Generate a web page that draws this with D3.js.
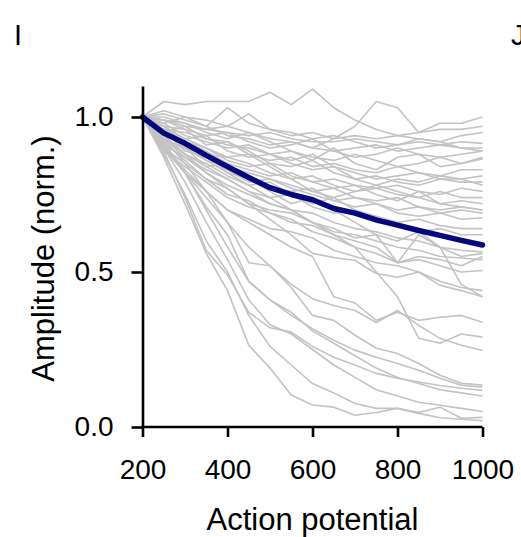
<!DOCTYPE html>
<html>
<head>
<meta charset="utf-8">
<script src="https://cdn.jsdelivr.net/npm/d3@7"></script>
<style>
  html, body { margin: 0; padding: 0; background: #fff; }
  svg { display: block; }
  text { font-family: "Liberation Sans", Arial, Helvetica, sans-serif; fill: #000; }
</style>
</head>
<body>
<svg id="chart" width="521" height="537"></svg>
<script>
// Action potential number (x) for every sample
const actionPotentials = [200,250,300,350,400,450,500,550,600,650,700,750,800,850,900,950,1000];
const xTicks = [200,400,600,800,1000];
const yTicks = [0,0.5,1.0];

// Mean normalized amplitude (thick navy trace)
const meanAmplitude = [1.00,0.948,0.915,0.876,0.840,0.805,0.772,0.750,0.733,0.705,0.690,0.668,0.651,0.634,0.618,0.602,0.587];

// Individual cells (grey traces), normalized amplitude
const cell01 = [1.00,1.05,1.04,1.05,1.05,1.05,1.08,1.04,1.09,1.03,0.99,0.96,0.94,0.93,0.92,0.90,0.89];
const cell02 = [1.00,0.99,0.98,0.96,0.97,0.95,0.93,0.92,0.90,0.93,0.97,1.05,1.03,0.95,0.98,0.98,1.00];
const cell03 = [1.00,1.02,1.00,0.99,0.97,1.01,0.96,0.94,0.95,0.93,0.94,0.93,0.94,0.95,0.96,0.96,0.97];
const cell04 = [1.00,1.01,0.99,0.97,1.03,0.98,0.96,0.95,0.93,0.94,0.92,0.90,0.91,0.93,0.92,0.94,0.95];
const cell05 = [1.00,0.99,0.97,0.96,0.95,0.94,0.95,0.93,0.92,0.92,0.93,0.92,0.91,0.92,0.91,0.92,0.915];
const cell06 = [1.00,0.98,1.00,0.97,0.94,0.93,0.91,0.92,0.90,0.89,0.90,0.91,0.89,0.90,0.91,0.90,0.90];
const cell07 = [1.00,0.97,0.96,0.94,0.95,0.92,0.90,0.91,0.93,0.89,0.87,0.88,0.90,0.88,0.87,0.88,0.89];
const cell08 = [1.00,1.00,0.98,0.95,0.93,0.95,0.92,0.89,0.86,0.90,0.85,0.83,0.87,0.88,0.84,0.85,0.87];
const cell09 = [1.00,0.96,0.95,0.93,0.91,0.90,0.88,0.89,0.87,0.86,0.88,0.86,0.84,0.85,0.87,0.85,0.865];
const cell10 = [1.00,0.98,0.94,0.92,0.90,0.91,0.88,0.86,0.88,0.84,0.80,0.78,0.76,0.74,0.72,0.71,0.70];
const cell11 = [1.00,0.95,0.97,0.93,0.92,0.88,0.86,0.87,0.84,0.85,0.83,0.82,0.84,0.82,0.81,0.83,0.83];
const cell12 = [1.00,0.97,0.93,0.94,0.89,0.87,0.88,0.85,0.83,0.84,0.82,0.80,0.81,0.82,0.80,0.80,0.81];
const cell13 = [1.00,0.99,0.96,0.91,0.92,0.89,0.85,0.84,0.86,0.82,0.80,0.81,0.79,0.78,0.80,0.79,0.79];
const cell14 = [1.00,0.94,0.92,0.90,0.87,0.88,0.84,0.80,0.76,0.74,0.76,0.78,0.80,0.79,0.81,0.80,0.78];
const cell15 = [1.00,0.96,0.93,0.90,0.86,0.84,0.85,0.81,0.79,0.80,0.78,0.77,0.78,0.76,0.75,0.77,0.76];
const cell16 = [1.00,0.97,0.91,0.88,0.87,0.85,0.82,0.80,0.81,0.78,0.76,0.77,0.75,0.74,0.76,0.74,0.74];
const cell17 = [1.00,0.95,0.92,0.89,0.85,0.83,0.81,0.82,0.79,0.77,0.78,0.75,0.73,0.76,0.72,0.73,0.72];
const cell18 = [1.00,0.93,0.90,0.86,0.84,0.82,0.80,0.78,0.76,0.77,0.74,0.73,0.74,0.71,0.70,0.71,0.70];
const cell19 = [1.00,0.96,0.89,0.87,0.83,0.79,0.80,0.77,0.75,0.73,0.74,0.72,0.70,0.71,0.69,0.70,0.69];
const cell20 = [1.00,0.92,0.90,0.84,0.85,0.80,0.77,0.76,0.77,0.73,0.71,0.72,0.69,0.68,0.69,0.67,0.675];
const cell21 = [1.00,0.94,0.88,0.85,0.81,0.78,0.79,0.75,0.72,0.74,0.70,0.68,0.66,0.67,0.65,0.64,0.64];
const cell22 = [1.00,0.91,0.87,0.83,0.80,0.76,0.74,0.75,0.71,0.69,0.70,0.66,0.65,0.63,0.64,0.62,0.62];
const cell23 = [1.00,0.93,0.88,0.82,0.78,0.75,0.72,0.70,0.69,0.66,0.64,0.63,0.61,0.60,0.58,0.57,0.565];
const cell24 = [1.00,0.90,0.85,0.80,0.77,0.72,0.70,0.69,0.66,0.63,0.62,0.60,0.58,0.57,0.55,0.545,0.54];
const cell25 = [1.00,0.95,0.90,0.88,0.82,0.80,0.76,0.72,0.74,0.70,0.66,0.62,0.60,0.63,0.58,0.55,0.56];
const cell26 = [1.00,0.89,0.84,0.79,0.74,0.71,0.69,0.66,0.65,0.62,0.60,0.58,0.53,0.55,0.54,0.52,0.55];
const cell27 = [1.00,0.92,0.86,0.80,0.75,0.73,0.69,0.67,0.63,0.61,0.58,0.56,0.53,0.54,0.52,0.50,0.505];
const cell28 = [1.00,0.90,0.82,0.76,0.70,0.67,0.64,0.63,0.61,0.57,0.55,0.53,0.52,0.50,0.47,0.45,0.44];
const cell29 = [1.00,0.94,0.88,0.84,0.80,0.76,0.72,0.70,0.66,0.64,0.61,0.62,0.53,0.62,0.58,0.46,0.42];
const cell30 = [1.00,0.90,0.82,0.74,0.66,0.58,0.52,0.46,0.414,0.392,0.376,0.337,0.376,0.328,0.286,0.264,0.247];
const cell31 = [1.00,0.95,0.90,0.86,0.82,0.78,0.74,0.70,0.66,0.62,0.58,0.50,0.42,0.286,0.27,0.30,0.29];
const cell32 = [1.00,0.90,0.83,0.76,0.70,0.66,0.62,0.58,0.55,0.42,0.40,0.344,0.37,0.344,0.354,0.36,0.338];
const cell33 = [1.00,0.93,0.87,0.82,0.77,0.72,0.67,0.62,0.56,0.547,0.537,0.495,0.483,0.50,0.457,0.44,0.42];
const cell34 = [1.00,0.87,0.72,0.56,0.44,0.264,0.19,0.103,0.071,0.064,0.038,0.047,0.06,0.047,0.064,0.028,0.031];
const cell35 = [1.00,0.88,0.75,0.60,0.50,0.36,0.26,0.20,0.14,0.11,0.076,0.06,0.06,0.044,0.03,0.025,0.02];
const cell36 = [1.00,0.90,0.79,0.66,0.54,0.41,0.33,0.30,0.25,0.20,0.16,0.12,0.10,0.08,0.07,0.06,0.05];
const cell37 = [1.00,0.91,0.82,0.70,0.58,0.47,0.41,0.37,0.31,0.27,0.23,0.19,0.16,0.14,0.12,0.11,0.10];
const cell38 = [1.00,0.89,0.74,0.57,0.49,0.37,0.32,0.306,0.26,0.225,0.20,0.173,0.157,0.145,0.134,0.125,0.118];
const cell39 = [1.00,0.92,0.82,0.71,0.62,0.47,0.41,0.36,0.317,0.28,0.248,0.225,0.205,0.183,0.157,0.135,0.128];
const cell40 = [1.00,0.93,0.85,0.76,0.66,0.53,0.52,0.45,0.36,0.344,0.296,0.254,0.237,0.205,0.167,0.141,0.135];

const cells = [cell01,cell02,cell03,cell04,cell05,cell06,cell07,cell08,cell09,cell10,
               cell11,cell12,cell13,cell14,cell15,cell16,cell17,cell18,cell19,cell20,
               cell21,cell22,cell23,cell24,cell25,cell26,cell27,cell28,cell29,cell30,
               cell31,cell32,cell33,cell34,cell35,cell36,cell37,cell38,cell39,cell40];

const svg = d3.select("#chart");

const x = d3.scaleLinear().domain([200, 1000]).range([142.5, 482.5]);
const y = d3.scaleLinear().domain([0, 1.1]).range([427, 86]);

const line = d3.line()
  .x((d, i) => x(actionPotentials[i]))
  .y(d => y(d));

// Grey individual traces
svg.append("g")
  .selectAll("path")
  .data(cells)
  .join("path")
  .attr("d", line)
  .attr("fill", "none")
  .attr("stroke", "#c3c3c3")
  .attr("stroke-width", 1.6)
  .attr("stroke-linejoin", "round");

// Mean trace
svg.append("path")
  .datum(meanAmplitude)
  .attr("d", line)
  .attr("fill", "none")
  .attr("stroke", "#06067f")
  .attr("stroke-width", 5.5)
  .attr("stroke-linejoin", "round")
  .attr("stroke-linecap", "round");

// Axes
const xAxis = d3.axisBottom(x)
  .tickValues(xTicks)
  .tickFormat(d3.format("d"))
  .tickSize(10)
  .tickSizeOuter(0)
  .tickPadding(22);

const yAxis = d3.axisLeft(y)
  .tickValues(yTicks)
  .tickFormat(d3.format(".1f"))
  .tickSize(11)
  .tickSizeOuter(0)
  .tickPadding(18);

const gx = svg.append("g").attr("transform", "translate(0,427)").call(xAxis);
const gy = svg.append("g").attr("transform", "translate(142.5,0)").call(yAxis);

[gx, gy].forEach(g => {
  g.select(".domain").attr("stroke", "#000").attr("stroke-width", 2.6);
  g.selectAll(".tick line").attr("stroke", "#000").attr("stroke-width", 2.6);
  g.selectAll(".tick text")
    .attr("font-size", 28)
    .attr("font-family", "Liberation Sans, Arial, sans-serif")
    .attr("fill", "#000");
});
// x axis line starts at the y axis
gx.select(".domain").attr("d", `M${x(200) - 1.3},0H${x(1000)}`);

// Axis titles
svg.append("text")
  .attr("x", (x(200) + x(1000)) / 2)
  .attr("y", 530)
  .attr("text-anchor", "middle")
  .attr("font-size", 31)
  .text("Action potential");

svg.append("text")
  .attr("transform", `translate(54,${(y(0) + y(1.1)) / 2 + 2}) rotate(-90)`)
  .attr("text-anchor", "middle")
  .attr("font-size", 31)
  .text("Amplitude (norm.)");

// Panel letters
svg.append("text").attr("x", 14).attr("y", 45).attr("font-size", 29).text("I");
svg.append("text").attr("x", 511).attr("y", 45).attr("font-size", 29).text("J");
</script>
</body>
</html>
